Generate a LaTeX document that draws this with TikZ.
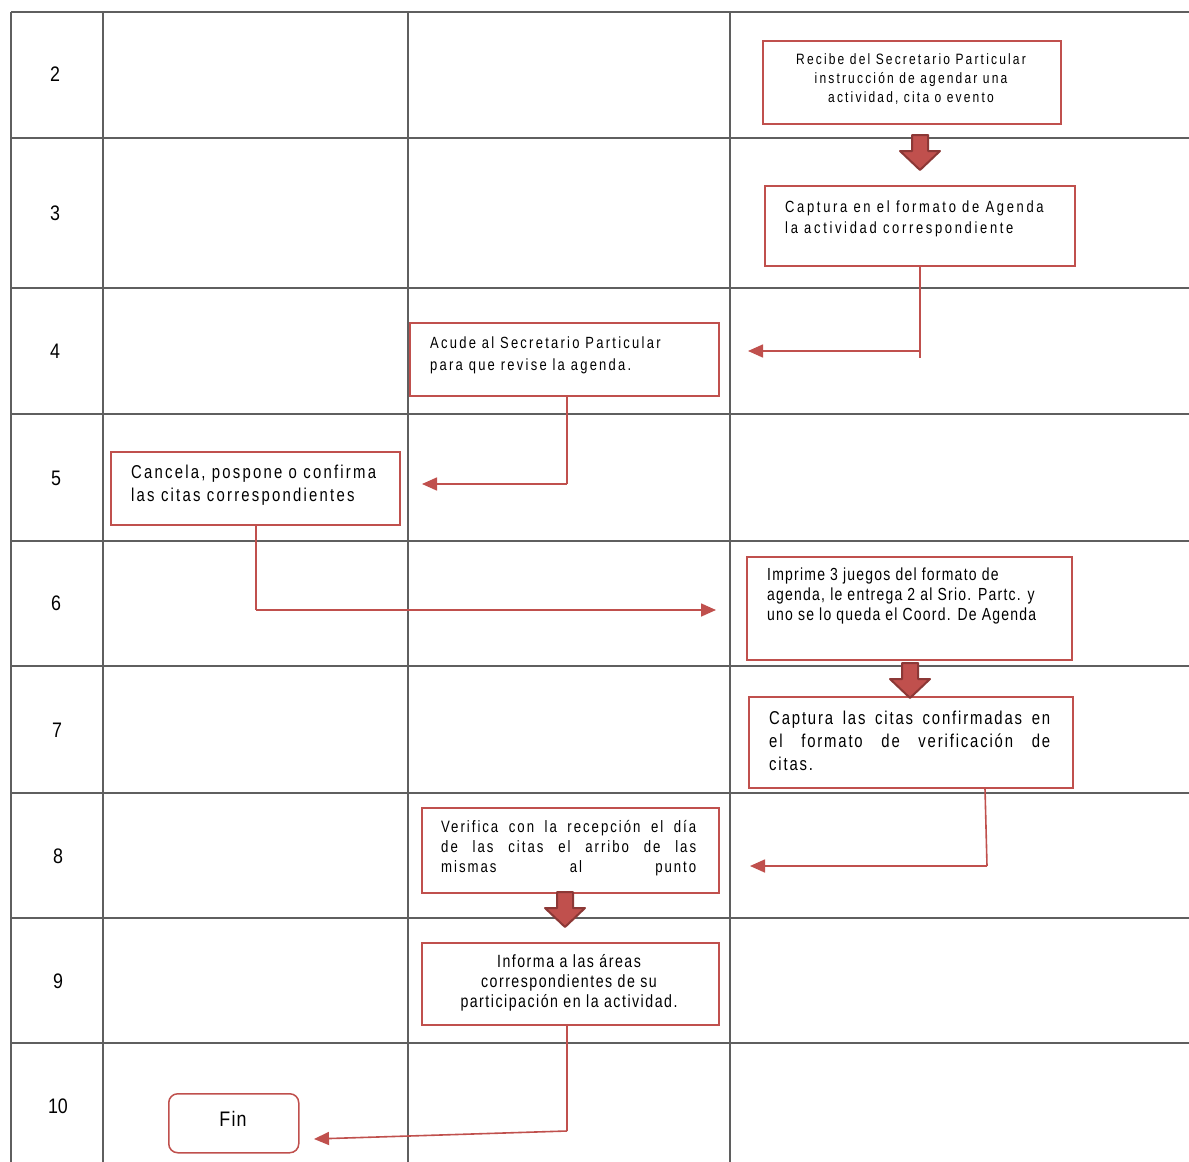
\documentclass[tikz,border=0pt]{standalone}
\usepackage{fontspec}
\setmainfont{Liberation Sans}
\newfontfamily\nf[FakeStretch=0.85]{Liberation Sans}
\newfontfamily\nfb[FakeStretch=0.8]{Liberation Sans}
\usetikzlibrary{arrows.meta}
\definecolor{boxred}{HTML}{C0504D}
\definecolor{darkred}{HTML}{8C3836}
\definecolor{gridgray}{HTML}{5F5F5F}
\newcommand{\fsz}[3]{\nf\fontsize{#1}{#2}\selectfont\addfontfeature{LetterSpace=#3}}
\newcommand{\bsz}[3]{\nfb\fontsize{#1}{#2}\selectfont\addfontfeature{LetterSpace=#3}}
\newcommand{\jl}[2]{\makebox[#1][s]{#2}}
\newcommand{\blockarr}[2]{%
  \filldraw[fill=boxred,draw=darkred,line width=2pt,line join=round]
    (#1-8,#2) -- (#1+8,#2) -- (#1+8,#2+16) -- (#1+20,#2+16) -- (#1,#2+35)
    -- (#1-20,#2+16) -- (#1-8,#2+16) -- cycle;}
\begin{document}
\begin{tikzpicture}[x=1pt,y=-1pt,
  gridline/.style={draw=gridgray,line width=1.2pt},
  box/.style={draw=boxred,line width=1.5pt,inner sep=0pt,anchor=north west},
  conn/.style={draw=boxred,line width=1.6pt},
  arr/.style={conn,-{Triangle[length=15pt,width=13pt]}},
  num/.style={font=\fsz{21}{24}{0}},
  txt/.style={inner sep=0pt}]
\useasboundingbox (0,0) rectangle (1189,1162);
\fill[white] (0,0) rectangle (1189,1162);
% grid
\foreach \yy in {12,138,288,414,541,666,793,918,1043}
  \draw[gridline] (11,\yy) -- (1189,\yy);
\foreach \xx in {11,103,408,730}
  \draw[gridline] (\xx,12) -- (\xx,1162);
% row numbers
\node[num] (n2) at (55,74) {2};
\node[num] (n3) at (55,213) {3};
\node[num] (n4) at (55,351) {4};
\node[num] (n5) at (56,478) {5};
\node[num] (n6) at (56,603) {6};
\node[num] (n7) at (57,730) {7};
\node[num] (n8) at (58,856) {8};
\node[num] (n9) at (58,981) {9};
\node[num] (n10) at (58,1106) {10};
% boxes
\node[box,minimum width=298pt,minimum height=83pt] (b2) at (762,40) {};
\node[txt,align=center,font=\bsz{15}{19}{14.5}] (t2) at (911,79)
  {Recibe del Secretario Particular\\instrucción de agendar una\\actividad, cita o evento};
\node[box,minimum width=310pt,minimum height=80pt] (b3) at (764,185) {};
\node[txt,align=left,anchor=west,font=\bsz{16.2}{21}{16.5}] (t3) at (785,218.5)
  {Captura en el formato de Agenda\\la actividad correspondiente};
\node[box,minimum width=309pt,minimum height=73pt] (b4) at (409,322) {};
\node[txt,align=left,anchor=west,font=\bsz{16.2}{22}{14}] (t4) at (430,355)
  {Acude al Secretario Particular\\para que revise la agenda.};
\node[box,minimum width=289pt,minimum height=73pt] (b5) at (110,451) {};
\node[txt,align=left,anchor=west,font=\bsz{18.6}{23}{12}] (t5) at (131,485.5)
  {Cancela, pospone o confirma\\las citas correspondientes};
\node[box,minimum width=325pt,minimum height=103pt] (b6) at (746,556) {};
\node[txt,align=left,anchor=west,font=\bsz{17.5}{20}{7}] (t6) at (767,596)
  {Imprime 3 juegos del formato de\\agenda, le entrega 2 al Srio. Partc. y\\uno se lo queda el Coord. De Agenda};
\node[box,minimum width=324pt,minimum height=91pt] (b7) at (748,696) {};
\node[txt,align=left,anchor=west,font=\bsz{18.6}{23}{9.9}] (t7) at (769,741)
  {\jl{281pt}{Captura las citas confirmadas en}\\\jl{281pt}{el formato de verificación de}\\citas.};
\node[box,minimum width=297pt,minimum height=85pt] (b8) at (421,807) {};
\node[txt,align=left,anchor=west,font=\bsz{16.5}{20}{12}] (t8) at (441,848)
  {\jl{255pt}{Verifica con la recepción el día}\\\jl{255pt}{de las citas el arribo de las}\\\jl{255pt}{mismas al punto}};
\node[box,minimum width=297pt,minimum height=82pt] (b9) at (421,942) {};
\node[txt,align=center,font=\bsz{17.7}{20}{8.5}] (t9) at (569,983)
  {Informa a las áreas\\correspondientes de su\\participación en la actividad.};
\node[box,draw=boxred,rounded corners=9pt,minimum width=130pt,minimum height=59pt] (fin) at (168,1093) {};
\node[txt,font=\fsz{21}{24}{6}] (tfin) at (233,1119) {Fin};
% block arrows
\blockarr{920}{135}
\blockarr{910}{663}
\blockarr{565}{892}
% connectors
\coordinate (e4) at (748,351);
\coordinate (j4) at (920,351);
\coordinate (k4) at (920,358);
\draw[conn] (b3.south -| k4) -- (k4);
\draw[arr] (j4) -- (e4);
\coordinate (e5) at (422,484);
\coordinate (k5) at (567,484);
\draw[conn] (b4.south -| k5) -- (k5);
\draw[arr] (k5) -- (e5);
\coordinate (e6) at (716,610);
\coordinate (k6) at (256,610);
\draw[conn] (b5.south -| k6) -- (k6);
\draw[arr] (k6) -- (e6);
\coordinate (e8) at (750,866);
\coordinate (k8) at (987,866);
\draw[conn] (b7.south -| 985,0) -- (k8);
\draw[arr] (k8) -- (e8);
\coordinate (e10) at (314,1139);
\coordinate (k10) at (567,1131);
\draw[conn] (b9.south -| k10) -- (k10);
\draw[arr] (k10) -- (e10);
\end{tikzpicture}
\end{document}
